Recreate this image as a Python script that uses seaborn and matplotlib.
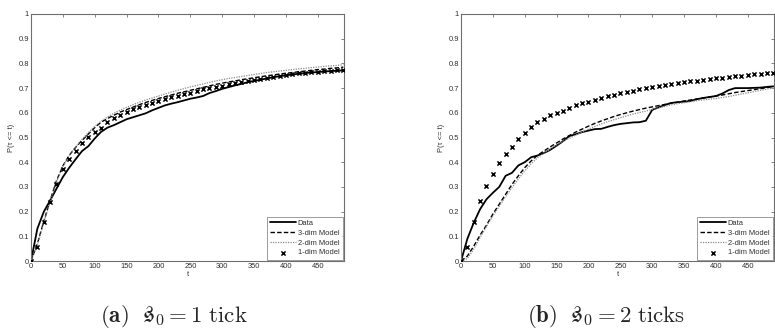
import numpy as np
import pandas as pd
import matplotlib
matplotlib.use("Agg")
import matplotlib.pyplot as plt
import seaborn as sns

# time grid (ticks) shared by all curves
t = list(range(0, 500, 10))

# (a) s0 = 1 tick
a_data = [0, 0.131, 0.199, 0.245, 0.293, 0.34, 0.378, 0.412, 0.445, 0.465,
          0.496, 0.523, 0.540, 0.550, 0.562, 0.574, 0.582, 0.590, 0.598, 0.610,
          0.620, 0.630, 0.637, 0.643, 0.650, 0.657, 0.662, 0.668, 0.680, 0.688,
          0.697, 0.704, 0.711, 0.717, 0.724, 0.729, 0.734, 0.739, 0.744, 0.748,
          0.752, 0.755, 0.758, 0.761, 0.763, 0.765, 0.767, 0.769, 0.770, 0.772]
a_m3 = [0, 0.07, 0.16, 0.245, 0.325, 0.385, 0.428, 0.46, 0.488, 0.514,
        0.54, 0.562, 0.577, 0.59, 0.603, 0.613, 0.623, 0.633, 0.642, 0.65,
        0.658, 0.665, 0.672, 0.679, 0.685, 0.691, 0.697, 0.703, 0.709, 0.715,
        0.72, 0.725, 0.729, 0.734, 0.738, 0.742, 0.746, 0.75, 0.753, 0.757,
        0.760, 0.763, 0.766, 0.769, 0.772, 0.775, 0.777, 0.780, 0.782, 0.785]
a_m2 = [0, 0.065, 0.155, 0.24, 0.32, 0.382, 0.427, 0.462, 0.492, 0.52,
        0.545, 0.566, 0.583, 0.598, 0.611, 0.622, 0.633, 0.643, 0.652, 0.66,
        0.668, 0.676, 0.684, 0.691, 0.698, 0.705, 0.711, 0.717, 0.723, 0.729,
        0.734, 0.739, 0.743, 0.747, 0.751, 0.755, 0.759, 0.763, 0.766, 0.769,
        0.772, 0.775, 0.778, 0.780, 0.783, 0.785, 0.788, 0.790, 0.792, 0.795]
a_m1 = [0, 0.057, 0.157, 0.239, 0.311, 0.374, 0.412, 0.445, 0.478, 0.504,
        0.524, 0.54, 0.562, 0.577, 0.592, 0.603, 0.614, 0.624, 0.632, 0.641,
        0.647, 0.654, 0.662, 0.668, 0.676, 0.682, 0.689, 0.695, 0.700, 0.705,
        0.710, 0.716, 0.720, 0.726, 0.730, 0.734, 0.738, 0.741, 0.746, 0.750,
        0.754, 0.757, 0.760, 0.763, 0.765, 0.767, 0.769, 0.771, 0.772, 0.773]

# (b) s0 = 2 ticks
b_data = [0, 0.09, 0.155, 0.21, 0.25, 0.276, 0.30, 0.345, 0.357, 0.387,
          0.40, 0.42, 0.427, 0.437, 0.45, 0.467, 0.485, 0.506, 0.513, 0.522,
          0.528, 0.534, 0.535, 0.543, 0.55, 0.555, 0.558, 0.561, 0.562, 0.568,
          0.612, 0.622, 0.632, 0.640, 0.643, 0.645, 0.648, 0.655, 0.660, 0.664,
          0.668, 0.678, 0.692, 0.700, 0.700, 0.700, 0.701, 0.702, 0.705, 0.707]
b_m3 = [0, 0.02, 0.06, 0.105, 0.145, 0.19, 0.23, 0.27, 0.31, 0.345,
        0.378, 0.405, 0.428, 0.445, 0.462, 0.478, 0.494, 0.508, 0.522, 0.534,
        0.546, 0.557, 0.567, 0.576, 0.585, 0.593, 0.600, 0.607, 0.613, 0.619,
        0.624, 0.629, 0.634, 0.639, 0.643, 0.648, 0.652, 0.656, 0.660, 0.664,
        0.668, 0.672, 0.677, 0.682, 0.686, 0.690, 0.694, 0.698, 0.702, 0.706]
b_m2 = [0, 0.01, 0.048, 0.095, 0.14, 0.182, 0.222, 0.26, 0.297, 0.332,
        0.365, 0.393, 0.418, 0.436, 0.454, 0.47, 0.485, 0.497, 0.51, 0.522,
        0.534, 0.545, 0.555, 0.564, 0.572, 0.58, 0.588, 0.595, 0.601, 0.607,
        0.614, 0.620, 0.626, 0.632, 0.637, 0.641, 0.645, 0.649, 0.652, 0.655,
        0.658, 0.662, 0.666, 0.671, 0.676, 0.681, 0.686, 0.691, 0.696, 0.701]
b_m1 = [0, 0.057, 0.158, 0.243, 0.303, 0.354, 0.397, 0.435, 0.463, 0.493,
        0.52, 0.542, 0.561, 0.576, 0.59, 0.601, 0.609, 0.62, 0.63, 0.638,
        0.645, 0.652, 0.659, 0.666, 0.673, 0.679, 0.685, 0.690, 0.695, 0.700,
        0.704, 0.708, 0.712, 0.716, 0.720, 0.724, 0.727, 0.730, 0.733, 0.736,
        0.739, 0.742, 0.745, 0.748, 0.750, 0.753, 0.756, 0.758, 0.761, 0.763]

series_labels = ["Data", "3-dim Model", "2-dim Model", "1-dim Model"]
x_ticks = list(range(0, 500, 50))
y_ticks = [0, 0.1, 0.2, 0.3, 0.4, 0.5, 0.6, 0.7, 0.8, 0.9, 1]
y_ticklabels = ["0", "0.1", "0.2", "0.3", "0.4", "0.5", "0.6", "0.7", "0.8", "0.9", "1"]
captions = [r"$\mathbf{(a)}\ \ \mathfrak{s}_0 = 1\ \mathrm{tick}$",
            r"$\mathbf{(b)}\ \ \mathfrak{s}_0 = 2\ \mathrm{ticks}$"]

sns.set_style("white")
plt.rcParams["font.family"] = ["Liberation Sans", "DejaVu Sans"]
plt.rcParams["mathtext.fontset"] = "cm"

fig = plt.figure(figsize=(7.75, 3.36), dpi=100)
W, H = 775, 336
ax_a = fig.add_axes([31 / W, 1 - 261 / H, 313 / W, 247 / H])
ax_b = fig.add_axes([461 / W, 1 - 261 / H, 313 / W, 247 / H])

frame_col = "#6e6e6e"
text_col = "#2e2e2e"
fs = 5.4


def draw_panel(ax, data, m3, m2, m1):
    df = pd.DataFrame({"t": t, "data": data, "m3": m3, "m2": m2, "m1": m1})
    sns.lineplot(data=df, x="t", y="data", ax=ax, color="black", lw=1.3,
                 label=series_labels[0])
    sns.lineplot(data=df, x="t", y="m3", ax=ax, color="black", lw=1.0,
                 linestyle=(0, (3.2, 1.6)), label=series_labels[1])
    sns.lineplot(data=df, x="t", y="m2", ax=ax, color="#8a8a8a", lw=0.9,
                 linestyle=(0, (1, 1)), label=series_labels[2])
    sns.scatterplot(data=df, x="t", y="m1", ax=ax, color="black", marker="x",
                    s=9, linewidth=1.1, label=series_labels[3], zorder=3)
    ax.set_xlim(0, 491)
    ax.set_ylim(0, 1)
    ax.set_xticks(x_ticks)
    ax.set_yticks(y_ticks)
    ax.set_yticklabels(y_ticklabels)
    ax.tick_params(direction="in", length=2.5, width=0.6, colors=frame_col,
                   labelcolor=text_col, labelsize=fs, pad=1.5,
                   top=True, right=True)
    for sp in ax.spines.values():
        sp.set_color(frame_col)
        sp.set_linewidth(0.8)
    ax.set_xlabel("t", fontsize=fs, color=text_col, labelpad=0.5)
    ax.set_ylabel("P(τ <= t)", fontsize=fs, color=text_col, labelpad=2.5)
    leg = ax.legend(loc="lower right", fontsize=fs, frameon=True, fancybox=False,
                    borderaxespad=0.2, handlelength=3.4, handletextpad=0.3,
                    borderpad=0.4, labelspacing=0.35)
    leg.get_frame().set_edgecolor(frame_col)
    leg.get_frame().set_linewidth(0.6)
    for txt in leg.get_texts():
        txt.set_color(text_col)


draw_panel(ax_a, a_data, a_m3, a_m2, a_m1)
draw_panel(ax_b, b_data, b_m3, b_m2, b_m1)

fig.text(174 / W, 1 - 317 / H, captions[0], ha="center", va="center", fontsize=16.5)
fig.text(606 / W, 1 - 317 / H, captions[1], ha="center", va="center", fontsize=16.5)

fig.savefig("out.png", dpi=100)
